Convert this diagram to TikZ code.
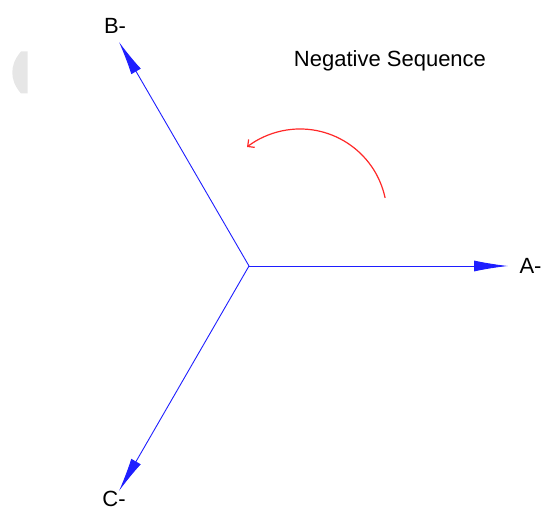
\documentclass[tikz,border=0pt]{standalone}
\usepackage{fontspec}
\setmainfont{Liberation Sans}
\usetikzlibrary{arrows.meta,calc}
\definecolor{phasor}{RGB}{30,30,255}
\definecolor{rotred}{RGB}{255,40,40}
\definecolor{ghost}{RGB}{230,230,230}
\tikzset{
  phasorline/.style={draw=phasor, line width=0.9pt, -{Latex[length=34pt,width=11pt]}},
  lbl/.style={inner sep=0pt, font=\fontsize{22}{26}\selectfont},
  rotarrow/.style={draw=rotred, line width=1.2pt, -{Straight Barb[length=5pt,width=10pt]}}
}
\begin{document}
\begin{tikzpicture}[x=1pt,y=1pt]
\useasboundingbox (0,0) rectangle (542,511);
% faint grey shape at left
\fill[ghost] (27.7,459.5) -- (21,459.5) .. controls (14.5,452) and (12.3,445) .. (12.3,438.5)
  .. controls (12.3,432) and (14.5,425) .. (21,417.5) -- (27.7,417.5) -- cycle;
\coordinate (O) at (249,245);
\coordinate (A) at (508,245);
\coordinate (B) at (119,469);
\coordinate (C) at (119,20);
\draw[phasorline] (O) -- (A);
\draw[phasorline] (O) -- (B);
\draw[phasorline] (O) -- (C);
\node[lbl] (Alabel) at (530.5,245) {A-};
\node[lbl] (Blabel) at (115,485) {B-};
\node[lbl] (Clabel) at (114,12) {C-};
\node[lbl] (title) at (390,450) {Negative Sequence};
\coordinate (arccenter) at (300,295);
\draw[rotarrow] ($(arccenter)+(12:87)$) arc[start angle=12, end angle=127.5, radius=87];
\end{tikzpicture}
\end{document}
